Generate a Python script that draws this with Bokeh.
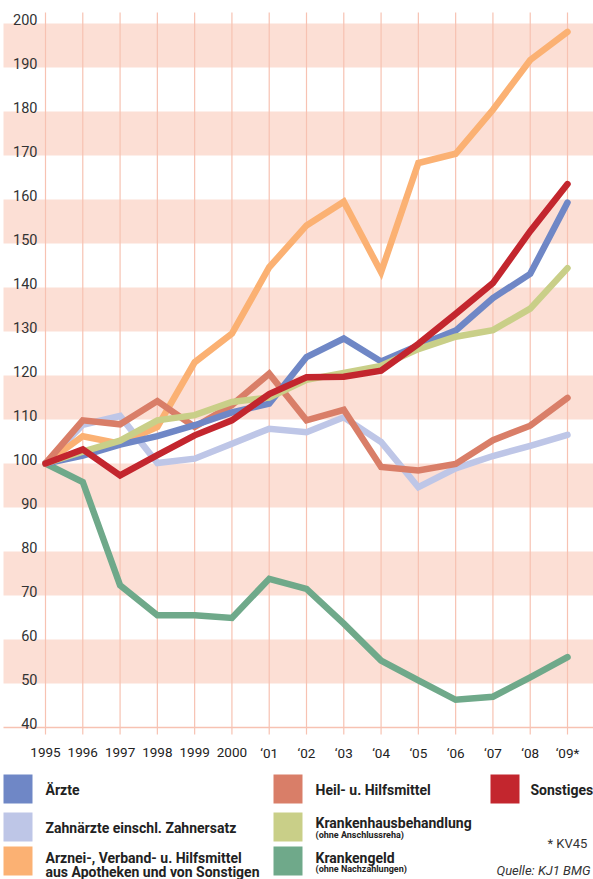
from bokeh.plotting import figure
from bokeh.models import Range1d
from bokeh.layouts import column
from bokeh.core.properties import value
from bokeh.embed import file_html
from bokeh.resources import INLINE

# ---------------- data ----------------
year_labels = ["1995", "1996", "1997", "1998", "1999", "2000", "\u201801", "\u201802",
               "\u201803", "\u201804", "\u201805", "\u201806", "\u201807", "\u201808", "\u201809*"]

aerzte = [100, 101.8, 104.3, 106.2, 108.7, 111.6, 113.6, 124.2, 128.4, 123.2, 126.8, 130.2, 137.6, 143.1, 159.3]
zahnaerzte = [100, 108.8, 110.8, 100.1, 101.1, 104.5, 107.9, 107.1, 110.5, 104.9, 94.6, 98.9, 101.7, 104.0, 106.5]
arznei = [100, 106.2, 104.5, 108.3, 123.0, 129.5, 144.6, 154.1, 159.5, 143.5, 168.3, 170.4, 180.4, 191.7, 198.1]
heil = [100, 109.8, 108.9, 114.2, 108.3, 113.3, 120.4, 109.8, 112.2, 99.2, 98.4, 99.9, 105.3, 108.6, 114.9]
krankenhaus = [100, 102.7, 105.2, 109.8, 111.0, 114.0, 115.0, 119.0, 120.6, 122.2, 126.0, 128.8, 130.3, 135.2, 144.4]
krankengeld = [100, 95.8, 72.3, 65.5, 65.5, 64.9, 73.8, 71.5, 63.6, 55.2, 50.7, 46.3, 47.0, 51.4, 56.0]
sonstiges = [100, 103.2, 97.3, 101.9, 106.4, 109.8, 115.8, 119.6, 119.7, 121.1, 127.2, 134.0, 141.0, 152.8, 163.5]

y_ticks = [40, 50, 60, 70, 80, 90, 100, 110, 120, 130, 140, 150, 160, 170, 180, 190, 200]
band_bottoms = [50, 70, 90, 110, 130, 150, 170, 190]

series_names = ["\u00c4rzte", "Zahn\u00e4rzte einschl. Zahnersatz", "Arznei-, Verband- u. Hilfsmittel",
                "Heil- u. Hilfsmittel", "Krankenhausbehandlung", "Krankengeld", "Sonstiges"]
series_colors = ["#6f87c6", "#bec6e7", "#fbb173", "#d97e68", "#c9cf88", "#6fa98a", "#c3262e"]

FONT = "Roboto"

# ---------------- chart geometry (page origin at 0,0) ----------------
W = 593
H1 = 768
px_per_year = 37.286
x_first = 45            # page x of first year
x0 = -x_first / px_per_year
x1 = x0 + W / px_per_year
x_band = (3 - x_first) / px_per_year
px_per_unit = 4.4
y100 = 463              # page y of value 100
y_top = 100 + y100 / px_per_unit
y_bot = y_top - H1 / px_per_unit

p = figure(width=W, height=H1, x_range=Range1d(x0, x1), y_range=Range1d(y_bot, y_top),
           output_backend="svg", toolbar_location=None, min_border=0,
           x_axis_type=None, y_axis_type=None, outline_line_color=None)
p.grid.visible = False
p.background_fill_color = "white"

band_color = "#fcdfd5"
grid_color = "#f7c2b2"

p.quad(left=x_band, right=x1, bottom=band_bottoms, top=[b + 10 for b in band_bottoms],
       fill_color=band_color, line_color=None)

xs = list(range(len(year_labels)))
p.segment(x0=xs, x1=xs, y0=40 - 7 / px_per_unit, y1=200 + 11 / px_per_unit,
          line_color=grid_color, line_width=1.2)
p.segment(x0=[x_band], x1=[x1], y0=[40], y1=[40], line_color=grid_color, line_width=1.5)

# y tick labels
p.text(x=[(37 - x_first) / px_per_year] * len(y_ticks), y=[t + 4.5 / px_per_unit for t in y_ticks],
       text=[str(t) for t in y_ticks], text_align="right", text_baseline="alphabetic",
       text_font=value(FONT), text_font_size="14.5px", text_color="#333333")

# x tick labels
p.text(x=xs, y=[40 - 25 / px_per_unit] * len(xs), text=year_labels,
       text_align="center", text_baseline="alphabetic",
       text_font=value(FONT), text_font_size="13.5px", text_color="#222222")

data_series = [krankengeld, zahnaerzte, arznei, heil, aerzte, krankenhaus, sonstiges]
color_order = [series_colors[5], series_colors[1], series_colors[2], series_colors[3],
               series_colors[0], series_colors[4], series_colors[6]]
for ys, c in zip(data_series, color_order):
    p.line(xs, ys, line_color=c, line_width=6.5, line_cap="round", line_join="miter")

# ---------------- legend ----------------
H2 = 879 - H1
q = figure(width=W, height=H2, x_range=Range1d(0, W), y_range=Range1d(H1 + H2, H1),
           output_backend="svg", toolbar_location=None, min_border=0,
           x_axis_type=None, y_axis_type=None, outline_line_color=None)
q.grid.visible = False

col_sq = [3, 273, 490]
col_tx = [45, 315, 530]
row_sq = [774, 812, 846]
sq_w = 29

# (series index, column, row)
placement = [(0, 0, 0), (1, 0, 1), (2, 0, 2), (3, 1, 0), (4, 1, 1), (5, 1, 2), (6, 2, 0)]
lefts, rights, tops, bottoms, fills = [], [], [], [], []
for si, ci, ri in placement:
    lefts.append(col_sq[ci])
    rights.append(col_sq[ci] + sq_w)
    tops.append(row_sq[ri])
    bottoms.append(row_sq[ri] + sq_w)
    fills.append(series_colors[si])
q.quad(left=lefts, right=rights, top=tops, bottom=bottoms, fill_color=fills, line_color=None)

main_txt = [series_names[0], series_names[1], series_names[2], "aus Apotheken und von Sonstigen",
            series_names[3], series_names[4], series_names[5], series_names[6]]
main_x = [col_tx[0], col_tx[0], col_tx[0], col_tx[0], col_tx[1], col_tx[1], col_tx[1], col_tx[2]]
main_y = [789, 827, 857, 871.5, 789, 822, 857, 789]
q.text(x=main_x, y=main_y, text=main_txt, text_align="left", text_baseline="middle",
       text_font=value(FONT), text_font_style="bold", text_font_size="14px",
       text_color="#222222")

sub_txt = ["(ohne Anschlussreha)", "(ohne Nachzahlungen)"]
q.text(x=[col_tx[1]] * 2, y=[834.5, 868.5], text=sub_txt, text_align="left",
       text_baseline="middle", text_font=value(FONT), text_font_style="bold",
       text_font_size="9px", text_color="#222222")

q.text(x=[590], y=[843], text=["*  KV45"], text_align="right", text_baseline="middle",
       text_font=value(FONT), text_font_size="13px", text_color="#333333")
q.text(x=[590], y=[870], text=["Quelle: KJ1 BMG"], text_align="right", text_baseline="middle",
       text_font=value(FONT), text_font_style="italic", text_font_size="13px",
       text_color="#333333")

layout = column(p, q, spacing=0)
open("out.html", "w").write(file_html(layout, INLINE))
